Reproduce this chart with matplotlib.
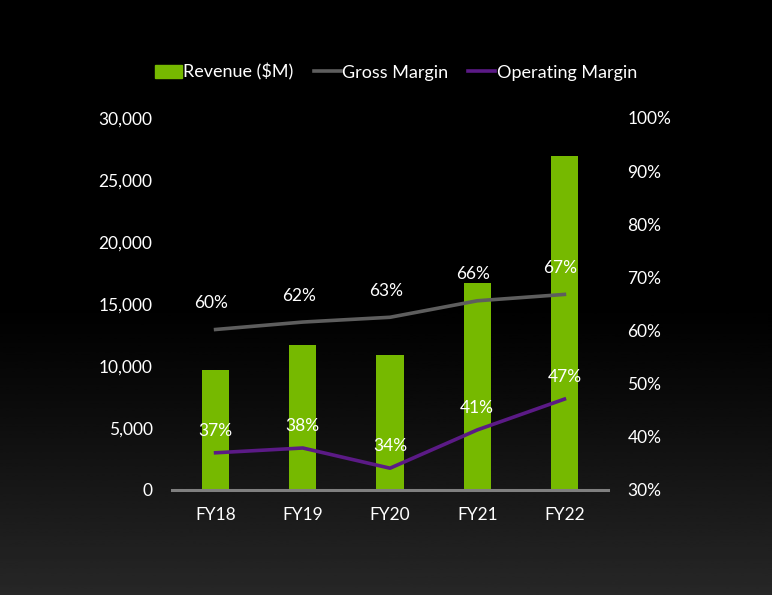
import numpy as np
import matplotlib.pyplot as plt
from matplotlib.patches import Patch
from matplotlib.lines import Line2D

years = ["FY18", "FY19", "FY20", "FY21", "FY22"]
revenue = [9714, 11716, 10918, 16675, 26914]
gross_margin = [60.2, 61.6, 62.5, 65.6, 66.8]
op_margin = [37.0, 37.9, 34.1, 41.3, 47.1]
gm_labels = ["60%", "62%", "63%", "66%", "67%"]
om_labels = ["37%", "38%", "34%", "41%", "47%"]

GREEN = "#76b900"
GRAY = "#5e5e5e"
PURPLE = "#5b1a86"

plt.rcParams['font.family'] = ['Lato', 'DejaVu Sans']

fig = plt.figure(figsize=(7.72, 5.95), dpi=100)

# background gradient: black on top, dark gray at the bottom
bg = fig.add_axes([0, 0, 1, 1], zorder=-10)
grad = np.ones((256, 1))
t = np.linspace(0, 1, 256)
grad[:, 0] = np.clip((t - 0.5) / 0.5, 0, 1) ** 1.2
bg.imshow(grad, aspect='auto', cmap='gray', vmin=0, vmax=6.5,
          extent=[0, 1, 0, 1], origin='upper')
bg.axis('off')

ax = fig.add_axes([0.2228, 0.1765, 0.5648, 0.6252])
ax.patch.set_alpha(0)
x = np.arange(len(years))
ax.bar(x, revenue, width=0.31, color=GREEN, zorder=2)
ax.set_xlim(-0.5, 4.5)
ax.set_ylim(0, 30000)
ax.set_yticks(range(0, 30001, 5000))
ax.set_yticklabels([f"{v:,}" for v in range(0, 30001, 5000)])
ax.set_xticks(x)
ax.set_xticklabels(years)
for s in ["top", "right", "left"]:
    ax.spines[s].set_visible(False)
ax.spines["bottom"].set_color("#7f7f7f")
ax.spines["bottom"].set_linewidth(2.2)
ax.tick_params(axis='both', length=0, colors='white', labelsize=12.5)
ax.tick_params(axis='y', pad=14)
ax.tick_params(axis='x', pad=12)

ax2 = ax.twinx()
ax2.set_ylim(30, 100)
ax2.set_yticks(range(30, 101, 10))
ax2.set_yticklabels([f"{v}%" for v in range(30, 101, 10)])
for s in ax2.spines.values():
    s.set_visible(False)
ax2.tick_params(axis='y', length=0, colors='white', labelsize=12.5, pad=14)

ax2.plot(x, gross_margin, color=GRAY, lw=2.6, zorder=3)
ax2.plot(x, op_margin, color=PURPLE, lw=2.6, zorder=3)
for xi, v, lab in zip(x, gross_margin, gm_labels):
    ax2.annotate(lab, (xi, v), xytext=(-3, 19), textcoords='offset points',
                 ha='center', va='center', color='white', fontsize=12.5)
for xi, v, lab in zip(x, op_margin, om_labels):
    ax2.annotate(lab, (xi, v), xytext=(0, 16), textcoords='offset points',
                 ha='center', va='center', color='white', fontsize=12.5)

handles = [Patch(color=GREEN, label="Revenue ($M)"),
           Line2D([], [], color=GRAY, lw=2.6, label="Gross Margin"),
           Line2D([], [], color=PURPLE, lw=2.6, label="Operating Margin")]
leg = fig.legend(handles=handles, loc='center', bbox_to_anchor=(0.513, 0.879),
                 ncol=3, frameon=False, fontsize=13, handlelength=1.5,
                 handletextpad=0.1, columnspacing=1.1)
for txt in leg.get_texts():
    txt.set_color('white')

fig.savefig("out.png", dpi=100)
